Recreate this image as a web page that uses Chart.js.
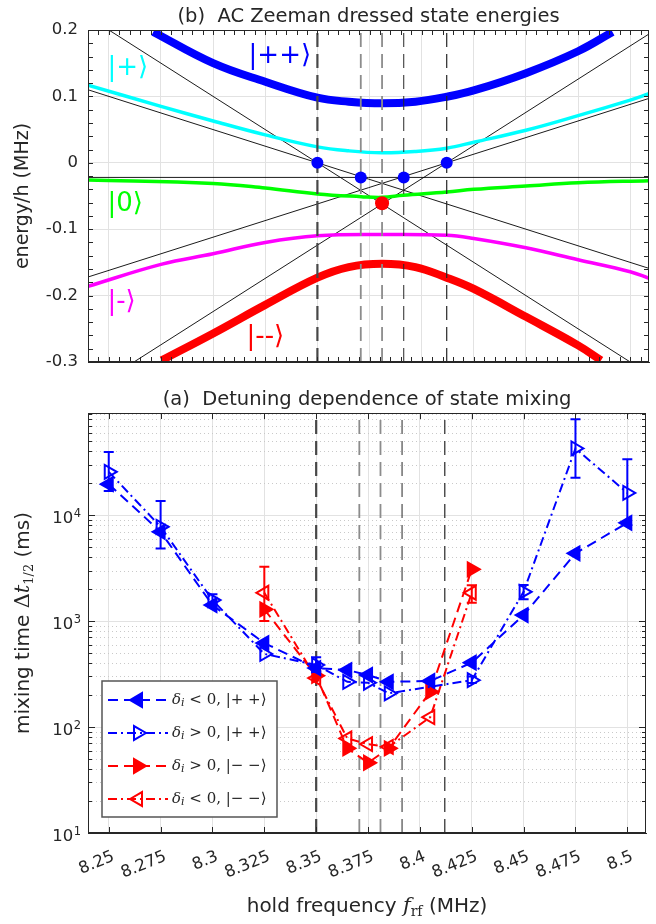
<!DOCTYPE html>
<html>
<head>
<meta charset="utf-8">
<script src="https://cdn.jsdelivr.net/npm/chart.js@4.4.1/dist/chart.umd.min.js"></script>
<style>
  html, body { margin: 0; padding: 0; background: #fff; }
  #wrap { position: relative; width: 656px; height: 924px; overflow: hidden; }
  canvas { position: absolute; left: 0; }
  #top { top: 0; }
  #bottom { top: 385px; }
</style>
</head>
<body>
<div id="wrap">
  <canvas id="top" width="656" height="385" style="width:656px;height:385px"></canvas>
  <canvas id="bottom" width="656" height="539" style="width:656px;height:539px"></canvas>
</div>
<script>
// ---------- (b) dressed state energies, MHz ----------
const fPP = [8.2713, 8.3, 8.325, 8.35, 8.365, 8.381, 8.397, 8.412, 8.425, 8.45, 8.475, 8.4915];
const ePP = [0.197, 0.150, 0.122, 0.098, 0.092, 0.0895, 0.092, 0.0995, 0.109, 0.135, 0.168, 0.197];
const fP = [8.24, 8.275, 8.3, 8.325, 8.35, 8.365, 8.381, 8.397, 8.412, 8.425, 8.45, 8.475, 8.5, 8.509];
const eP = [0.117, 0.085, 0.063, 0.042, 0.024, 0.018, 0.015, 0.017, 0.022, 0.031, 0.049, 0.071, 0.0945, 0.104];
const f0 = [8.24, 8.3, 8.325, 8.35, 8.371, 8.381, 8.391, 8.412, 8.425, 8.45, 8.475, 8.509];
const e0 = [-0.026, -0.031, -0.038, -0.047, -0.051, -0.052, -0.049, -0.044, -0.040, -0.035, -0.030, -0.027];
const fM = [8.24, 8.275, 8.3, 8.325, 8.35, 8.381, 8.412, 8.425, 8.45, 8.475, 8.5, 8.509];
const eM = [-0.186, -0.153, -0.137, -0.120, -0.110, -0.108, -0.109, -0.114, -0.128, -0.146, -0.164, -0.174];
const fMM = [8.2753, 8.3, 8.325, 8.35, 8.365, 8.381, 8.397, 8.412, 8.425, 8.45, 8.475, 8.486];
const eMM = [-0.2975, -0.257, -0.214, -0.173, -0.157, -0.152, -0.157, -0.173, -0.19, -0.232, -0.275, -0.2975];

// bare (undressed) levels, end points
const bareLines = [
  [[8.25, 0.2], [8.5, -0.3]],
  [[8.262, -0.3], [8.509, 0.194]],
  [[8.24, 0.11], [8.509, -0.159]],
  [[8.24, -0.172], [8.509, 0.097]],
  [[8.24, -0.022], [8.509, -0.022]]
];
const crossBlue = [[8.35, 0], [8.3708, -0.022], [8.3914, -0.022], [8.412, 0]];
const crossRed = [[8.381, -0.061]];
const markFreqs = [8.35, 8.3708, 8.381, 8.3914, 8.412];

// ---------- (a) mixing time, ms ----------
const fBlueNeg = [8.25, 8.275, 8.3, 8.325, 8.35, 8.365, 8.375, 8.385, 8.405, 8.425, 8.45, 8.475, 8.5];
const tBlueNeg = [19600, 6960, 1415, 620, 360, 345, 310, 267, 272, 405, 1140, 4360, 8460];
const fBluePos = [8.25, 8.275, 8.3, 8.325, 8.35, 8.365, 8.375, 8.385, 8.425, 8.45, 8.475, 8.5];
const tBluePos = [25600, 7760, 1580, 490, 385, 267, 262, 208, 277, 1890, 42600, 16200];
const loBluePos = [16900, 4850, 1450, null, 330, null, null, null, 260, 1610, 22500, 8060];
const hiBluePos = [39500, 13600, 1790, null, 455, null, null, null, 300, 2190, 80500, 33700];
const fRedPos = [8.325, 8.35, 8.365, 8.375, 8.385, 8.405, 8.425];
const tRedPos = [1290, 305, 63, 46, 63, 215, 3080];
const fRedNeg = [8.325, 8.35, 8.365, 8.375, 8.385, 8.405, 8.425];
const tRedNeg = [1850, 290, 78, 69, 65, 124, 1850];
const loRedNeg = [1000, null, null, null, null, null, 1490];
const hiRedNeg = [3250, null, null, null, null, null, 2180];

const xTickLabels = ['8.25', '8.275', '8.3', '8.325', '8.35', '8.375', '8.4', '8.425', '8.45', '8.475', '8.5'];
const decades = [1, 2, 3, 4];

const SANS = '"DejaVu Sans", Verdana, sans-serif';
const SERIF = '"DejaVu Serif", serif';
const INK = '#262626';
const GRID = '#e2e2e2';
const X_MIN = 8.24, X_MAX = 8.509;
const T_MIN = 10, T_MAX = 92000;

const pts = (fs, vs) => fs.map((f, i) => ({ x: f, y: vs[i] }));
const isDecade = v => { const l = Math.log10(v); return Math.abs(l - Math.round(l)) < 1e-6; };

// draw a list of text runs starting at x (mixed fonts)
function drawRuns(ctx, runs, x, y) {
  runs.forEach(r => {
    ctx.font = r.font;
    ctx.fillText(r.t, x, y + (r.dy || 0));
    x += ctx.measureText(r.t).width;
  });
}
function runsWidth(ctx, runs) {
  let w = 0;
  runs.forEach(r => { ctx.font = r.font; w += ctx.measureText(r.t).width; });
  return w;
}

// titles and axis labels
function richText(items) {
  return {
    id: 'richText',
    afterDraw(chart) {
      const { ctx, chartArea: a } = chart;
      items.forEach(it => {
        const x = it.x === 'center' ? (a.left + a.right) / 2 : it.x;
        const y = it.y === 'middle' ? (a.top + a.bottom) / 2 : it.y;
        ctx.save();
        ctx.translate(x, y);
        if (it.rotate) ctx.rotate(it.rotate);
        ctx.fillStyle = INK;
        ctx.textAlign = 'left';
        ctx.textBaseline = 'alphabetic';
        drawRuns(ctx, it.runs, -runsWidth(ctx, it.runs) / 2, 0);
        ctx.restore();
      });
    }
  };
}

// matlab style box with inward ticks
function boxTicks(xTicks, yTicks) {
  return {
    id: 'boxTicks',
    afterDraw(chart) {
      const { ctx, chartArea: a, scales: { x, y } } = chart;
      ctx.save();
      ctx.strokeStyle = INK;
      ctx.lineWidth = 1;
      ctx.beginPath();
      xTicks.forEach(t => {
        const px = Math.round(x.getPixelForValue(t.v)) + 0.5;
        ctx.moveTo(px, a.bottom); ctx.lineTo(px, a.bottom - t.len);
        ctx.moveTo(px, a.top); ctx.lineTo(px, a.top + t.len);
      });
      yTicks.forEach(t => {
        const py = Math.round(y.getPixelForValue(t.v)) + 0.5;
        ctx.moveTo(a.left, py); ctx.lineTo(a.left + t.len, py);
        ctx.moveTo(a.right, py); ctx.lineTo(a.right - t.len, py);
      });
      ctx.stroke();
      ctx.strokeRect(a.left + 0.5, a.top + 0.5, a.right - a.left - 1, a.bottom - a.top - 1);
      ctx.restore();
    }
  };
}

// |state> labels placed in data coordinates
function ketLabels(items) {
  return {
    id: 'ketLabels',
    afterDatasetsDraw(chart) {
      const { ctx, scales: { x, y } } = chart;
      ctx.save();
      ctx.font = `26px ${SANS}`;
      ctx.textAlign = 'left';
      ctx.textBaseline = 'middle';
      items.forEach(k => {
        ctx.fillStyle = k.color;
        ctx.fillText(k.t, x.getPixelForValue(k.f), y.getPixelForValue(k.e));
      });
      ctx.restore();
    }
  };
}

// ---------- top chart ----------
const markStyle = [
  { color: '#474747', width: 2.2 },
  { color: '#8c8c8c', width: 1.8 },
  { color: '#8c8c8c', width: 1.8 },
  { color: '#262626', width: 1 },
  { color: '#262626', width: 1.2 }
];

const topSets = [];
topSets.push({ data: crossBlue.map(([x, y]) => ({ x, y })), showLine: false, pointRadius: 6,
  pointBackgroundColor: '#0000ff', pointBorderWidth: 0, order: 0 });
topSets.push({ data: crossRed.map(([x, y]) => ({ x, y })), showLine: false, pointRadius: 7,
  pointBackgroundColor: '#ff0000', pointBorderWidth: 0, order: 0 });
markFreqs.forEach((f, i) => topSets.push({
  data: [{ x: f, y: -0.3 }, { x: f, y: 0.2 }], showLine: true, pointRadius: 0,
  borderColor: markStyle[i].color, borderWidth: markStyle[i].width, borderDash: [14, 7], order: 1
}));
[
  [fPP, ePP, '#0000ff', 8],
  [fP, eP, '#00ffff', 3.5],
  [f0, e0, '#00ff00', 3.5],
  [fM, eM, '#ff00ff', 3.5],
  [fMM, eMM, '#ff0000', 8]
].forEach(([fs, es, c, w]) => topSets.push({
  data: pts(fs, es), showLine: true, pointRadius: 0, borderColor: c, borderWidth: w,
  tension: 0.4, order: 2
}));
bareLines.forEach(l => topSets.push({
  data: l.map(([x, y]) => ({ x, y })), showLine: true, pointRadius: 0,
  borderColor: '#000', borderWidth: 0.9, order: 3
}));

const topXTicks = [];
for (let k = 1648; k <= 1701; k++) topXTicks.push({ v: k * 0.005, len: 5 });
const topYTicks = [];
for (let k = -15; k <= 10; k++) topYTicks.push({ v: k * 0.02, len: 5 });

new Chart(document.getElementById('top'), {
  type: 'scatter',
  data: { datasets: topSets },
  options: {
    responsive: false, animation: false, events: [], devicePixelRatio: 1,
    layout: { padding: { top: 30, right: 1, left: 0, bottom: 0 } },
    plugins: { legend: { display: false }, tooltip: { enabled: false } },
    scales: {
      x: {
        type: 'linear', min: X_MIN, max: X_MAX,
        afterFit: s => { s.height = 23; },
        ticks: { display: false, stepSize: 0.025, includeBounds: false },
        grid: { color: GRID, drawTicks: false }, border: { color: INK }
      },
      y: {
        min: -0.3, max: 0.2,
        afterFit: s => { s.width = 88; },
        ticks: { stepSize: 0.1, color: INK, font: { family: SANS, size: 16.5 }, padding: 10 },
        grid: { color: GRID, drawTicks: false }, border: { color: INK }
      }
    }
  },
  plugins: [
    boxTicks(topXTicks, topYTicks),
    ketLabels([
      { t: '|++⟩', f: 8.317, e: 0.161, color: '#0000ff' },
      { t: '|+⟩', f: 8.2493, e: 0.143, color: '#00ffff' },
      { t: '|0⟩', f: 8.2493, e: -0.062, color: '#00ff00' },
      { t: '|-⟩', f: 8.2493, e: -0.21, color: '#ff00ff' },
      { t: '|--⟩', f: 8.316, e: -0.263, color: '#ff0000' }
    ]),
    richText([
      { x: 'center', y: 22, runs: [{ t: '(b)  AC Zeeman dressed state energies', font: `19.5px ${SANS}` }] },
      { x: 28, y: 'middle', rotate: -Math.PI / 2, runs: [{ t: 'energy/h (MHz)', font: `19px ${SANS}` }] }
    ])
  ]
});

// ---------- bottom chart ----------
const BLUE = '#0000ff', RED = '#ff0000';
const DASH = [10, 6], DASHDOT = [9, 4, 2, 4];
const deltaRuns = (rel, ket) => [
  { t: 'δ', font: `italic 15px ${SERIF}` },
  { t: 'i', font: `italic 11px ${SERIF}`, dy: 3 },
  { t: ` ${rel} 0, |${ket}⟩`, font: `15px ${SERIF}` }
];

const series = [
  { data: pts(fBlueNeg, tBlueNeg), color: BLUE, dash: DASH, rot: -90, filled: true,
    legend: deltaRuns('<', '+ +') },
  { data: pts(fBluePos, tBluePos), color: BLUE, dash: DASHDOT, rot: 90, filled: false,
    lo: loBluePos, hi: hiBluePos, legend: deltaRuns('>', '+ +') },
  { data: pts(fRedPos, tRedPos), color: RED, dash: DASH, rot: 90, filled: true,
    legend: deltaRuns('>', '− −') },
  { data: pts(fRedNeg, tRedNeg), color: RED, dash: DASHDOT, rot: -90, filled: false,
    lo: loRedNeg, hi: hiRedNeg, legend: deltaRuns('<', '− −') }
];

const botSets = series.map((s, i) => ({
  data: s.data, showLine: true, borderColor: s.color, borderWidth: 2, borderDash: s.dash,
  pointStyle: 'triangle', pointRotation: s.rot, pointRadius: 8, pointBorderWidth: 2,
  pointBorderColor: s.color, pointBackgroundColor: s.filled ? s.color : 'rgba(0,0,0,0)',
  errLo: s.lo, errHi: s.hi, order: i
}));
markFreqs.forEach((f, i) => botSets.push({
  data: [{ x: f, y: T_MIN }, { x: f, y: T_MAX }], showLine: true, pointRadius: 0,
  borderColor: markStyle[i].color, borderWidth: markStyle[i].width, borderDash: [14, 7], order: 10
}));

const botXTicks = [];
for (let k = 330; k <= 340; k++) botXTicks.push({ v: k * 0.025, len: 6 });
const botYTicks = [];
decades.forEach(n => {
  for (let m = 1; m <= 9; m++) {
    const v = m * Math.pow(10, n);
    if (v <= T_MAX) botYTicks.push({ v, len: m === 1 ? 7 : 4 });
  }
});

const minorGrid = {
  id: 'minorGrid',
  beforeDatasetsDraw(chart) {
    const { ctx, chartArea: a, scales: { y } } = chart;
    ctx.save();
    ctx.strokeStyle = '#c9c9c9';
    ctx.lineWidth = 1;
    ctx.setLineDash([1, 3]);
    ctx.beginPath();
    botYTicks.filter(t => t.len < 7).forEach(t => {
      const py = Math.round(y.getPixelForValue(t.v)) + 0.5;
      ctx.moveTo(a.left, py); ctx.lineTo(a.right, py);
    });
    ctx.stroke();
    ctx.restore();
  }
};

const errorBars = {
  id: 'errorBars',
  afterDatasetsDraw(chart) {
    const { ctx, scales: { x, y } } = chart;
    chart.data.datasets.forEach(ds => {
      if (!ds.errLo) return;
      ctx.save();
      ctx.strokeStyle = ds.borderColor;
      ctx.lineWidth = 2;
      ctx.beginPath();
      ds.data.forEach((p, j) => {
        if (ds.errLo[j] == null) return;
        const px = x.getPixelForValue(p.x);
        const y1 = y.getPixelForValue(ds.errLo[j]), y2 = y.getPixelForValue(ds.errHi[j]);
        ctx.moveTo(px, y1); ctx.lineTo(px, y2);
        ctx.moveTo(px - 5, y1); ctx.lineTo(px + 5, y1);
        ctx.moveTo(px - 5, y2); ctx.lineTo(px + 5, y2);
      });
      ctx.stroke();
      ctx.restore();
    });
  }
};

const logLabels = {
  id: 'logLabels',
  afterDraw(chart) {
    const { ctx, scales: { y } } = chart;
    ctx.save();
    ctx.fillStyle = INK;
    ctx.textAlign = 'right';
    ctx.textBaseline = 'alphabetic';
    decades.forEach(n => {
      const py = y.getPixelForValue(Math.pow(10, n));
      ctx.font = `11.5px ${SANS}`;
      const ew = ctx.measureText(String(n)).width;
      ctx.fillText(String(n), 81, py + 2);
      ctx.font = `16.5px ${SANS}`;
      ctx.fillText('10', 81 - ew - 0.5, py + 8.3);
    });
    ctx.restore();
  }
};

const boxLegend = {
  id: 'boxLegend',
  afterDraw(chart) {
    const ctx = chart.ctx;
    const bx = 102, by = 296, bw = 175, bh = 136;
    ctx.save();
    ctx.fillStyle = '#fff';
    ctx.fillRect(bx, by, bw, bh);
    ctx.strokeStyle = '#555';
    ctx.lineWidth = 1.5;
    ctx.strokeRect(bx, by, bw, bh);
    series.forEach((s, i) => {
      const ds = botSets[i];
      const ry = by + 19 + i * 33;
      ctx.strokeStyle = s.color;
      ctx.lineWidth = 2;
      ctx.setLineDash(s.dash);
      ctx.beginPath(); ctx.moveTo(bx + 6, ry); ctx.lineTo(bx + 66, ry); ctx.stroke();
      ctx.setLineDash([]);
      ctx.fillStyle = ds.pointBackgroundColor;
      ctx.strokeStyle = s.color;
      ctx.lineWidth = 2;
      Chart.helpers.drawPoint(ctx, { pointStyle: 'triangle', rotation: s.rot, radius: 8, borderWidth: 2 },
        bx + 36, ry);
      ctx.fillStyle = INK;
      ctx.textAlign = 'left';
      ctx.textBaseline = 'middle';
      drawRuns(ctx, s.legend, bx + 70, ry);
    });
    ctx.restore();
  }
};

new Chart(document.getElementById('bottom'), {
  type: 'scatter',
  data: { datasets: botSets },
  options: {
    responsive: false, animation: false, events: [], devicePixelRatio: 1,
    layout: { padding: { top: 28, right: 1, left: 0, bottom: 0 } },
    plugins: { legend: { display: false }, tooltip: { enabled: false } },
    scales: {
      x: {
        type: 'linear', min: X_MIN, max: X_MAX,
        afterFit: s => { s.height = 91; },
        ticks: {
          stepSize: 0.025, includeBounds: false, autoSkip: false,
          minRotation: 22, maxRotation: 22, padding: 14, labelOffset: 5,
          color: INK, font: { family: SANS, size: 16.5 },
          callback: (v, i) => xTickLabels[i]
        },
        grid: { color: GRID, drawTicks: false }, border: { color: INK }
      },
      y: {
        type: 'logarithmic', min: T_MIN, max: T_MAX,
        afterFit: s => { s.width = 88; },
        ticks: { autoSkip: false, callback: () => '' },
        grid: { color: c => (c.tick && isDecade(c.tick.value)) ? GRID : 'rgba(0,0,0,0)', drawTicks: false },
        border: { color: INK }
      }
    }
  },
  plugins: [
    minorGrid, errorBars, boxTicks(botXTicks, botYTicks), logLabels, boxLegend,
    richText([
      { x: 'center', y: 20, runs: [{ t: '(a)  Detuning dependence of state mixing', font: `19.5px ${SANS}` }] },
      { x: 'center', y: 527, runs: [
        { t: 'hold frequency ', font: `20px ${SANS}` },
        { t: 'f', font: `italic 21px ${SERIF}` },
        { t: 'rf', font: `14px ${SERIF}`, dy: 4 },
        { t: ' (MHz)', font: `20px ${SANS}` }
      ] },
      { x: 29, y: 'middle', rotate: -Math.PI / 2, runs: [
        { t: 'mixing time ', font: `20px ${SANS}` },
        { t: 'Δ', font: `21px ${SERIF}` },
        { t: 't', font: `italic 21px ${SERIF}` },
        { t: '1/2', font: `13px ${SERIF}`, dy: 4 },
        { t: ' (ms)', font: `20px ${SANS}` }
      ] }
    ])
  ]
});
</script>
</body>
</html>
